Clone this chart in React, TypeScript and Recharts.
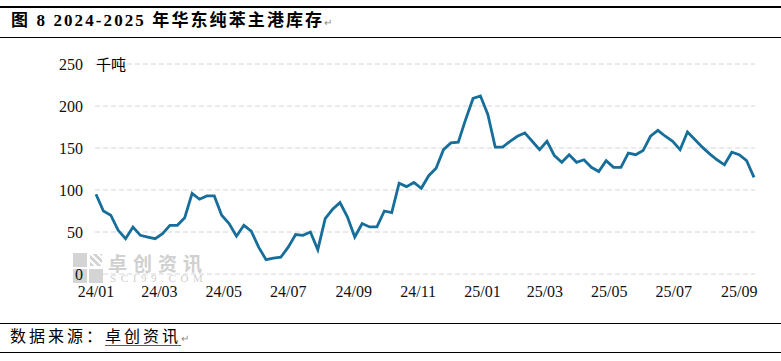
import { LineChart, Line, XAxis, YAxis, CartesianGrid } from "recharts";

// 华东纯苯主港库存，周度，单位：千吨
const INVENTORY = [
  95, 75, 70, 52, 42, 56, 46, 44, 42, 48,
  58, 58, 67, 96, 89, 93, 93, 70, 60, 45,
  58, 51, 32, 17, 19, 20, 32, 47, 46, 50,
  29, 66, 77, 85, 68, 44, 60, 56, 56, 75,
  73, 108, 104, 109, 102, 117, 126, 148, 156, 157,
  184, 209, 212, 190, 151, 151, 158, 164, 168, 158,
  148, 158, 141, 133, 142, 133, 136, 127, 122, 135,
  127, 127, 144, 142, 147, 164, 171, 164, 158, 148,
  169, 160, 151, 143, 136, 130, 145, 142, 135, 115,
];

const MONTH_LABELS = [
  "24/01", "24/03", "24/05", "24/07", "24/09", "24/11",
  "25/01", "25/03", "25/05", "25/07", "25/09",
];

const Y_TICKS = [0, 50, 100, 150, 200, 250];

const START = Date.UTC(2024, 0, 1);
const DAY_MS = 86400000;

// day offset of the first day of each labelled month
const monthDay = (label: string) => {
  const [yy, mm] = label.split("/");
  return Math.round((Date.UTC(2000 + Number(yy), Number(mm) - 1, 1) - START) / DAY_MS);
};
const X_TICKS = MONTH_LABELS.map(monthDay);
const tickLabel: Record<number, string> = {};
MONTH_LABELS.forEach((l, i) => (tickLabel[X_TICKS[i]] = l));

const data = INVENTORY.map((value, i) => ({ day: i * 7, value }));
const lastDay = (INVENTORY.length - 1) * 7;

const AXIS_FONT = "'Liberation Serif', 'Times New Roman', serif";
const CJK_FONT = "'Liberation Serif', 'Noto Sans CJK SC', serif";

const rule = (top: number) => (
  <div
    style={{
      position: "absolute",
      left: 0,
      top,
      width: 781,
      height: 1.5,
      background: "#000",
    }}
  />
);

export default function App() {
  return (
    <div
      style={{
        position: "absolute",
        left: 0,
        top: 0,
        width: 781,
        height: 361,
        overflow: "hidden",
        background: "#fff",
      }}
    >
      {rule(6)}
      <div
        style={{
          position: "absolute",
          left: 11,
          top: 10,
          fontFamily: CJK_FONT,
          fontWeight: 700,
          fontSize: 17,
          letterSpacing: 2.1,
          lineHeight: "22px",
          color: "#000",
          whiteSpace: "nowrap",
        }}
      >
        图 8 2024-2025 年华东纯苯主港库存
        <span style={{ fontSize: 10, color: "#888", fontWeight: 400 }}>↵</span>
      </div>
      {rule(36.5)}

      {/* watermark */}
      <div style={{ position: "absolute", left: 73, top: 252, width: 210, height: 32 }}>
        <div style={{ position: "absolute", left: 0, top: 1, width: 14, height: 14, background: "#d4d4d4" }} />
        <div style={{ position: "absolute", left: 0, top: 17, width: 14, height: 14, background: "#d4d4d4" }} />
        <div style={{ position: "absolute", left: 16, top: 17, width: 14, height: 14, background: "#d4d4d4" }} />
        <div style={{ position: "absolute", left: 17, top: 2, width: 12, height: 12, background: "repeating-linear-gradient(45deg,#d4d4d4 0 3px,#fff 3px 5px)" }} />
        <div
          style={{
            position: "absolute",
            left: 35,
            top: 1,
            fontFamily: "'Noto Sans CJK SC', sans-serif",
            fontWeight: 700,
            fontSize: 19,
            letterSpacing: 6,
            lineHeight: "19px",
            color: "#d0d0d0",
            whiteSpace: "nowrap",
          }}
        >
          卓创资讯
        </div>
        <div
          style={{
            position: "absolute",
            left: 37,
            top: 22,
            fontFamily: AXIS_FONT,
            fontSize: 11,
            letterSpacing: 4.6,
            lineHeight: "9px",
            color: "#d0d0d0",
            whiteSpace: "nowrap",
          }}
        >
          SCI99.COM
        </div>
      </div>

      <div style={{ position: "absolute", left: 0, top: 0 }}>
        <LineChart
          width={781}
          height={361}
          data={data}
          margin={{ top: 64, right: 26, bottom: 51, left: 35 }}
        >
          <CartesianGrid
            vertical={false}
            stroke="#d6d6d6"
            strokeDasharray="5 3"
          />
          <XAxis
            dataKey="day"
            type="number"
            domain={[0, lastDay]}
            ticks={X_TICKS}
            interval={0}
            padding={{ left: 1, right: 1 }}
            tickFormatter={(d: number) => tickLabel[d] ?? ""}
            axisLine={false}
            tickLine={false}
            tickSize={0}
            tickMargin={12}
            height={36}
            tick={{ fontFamily: AXIS_FONT, fontSize: 16, fill: "#111" }}
          />
          <YAxis
            domain={[0, 250]}
            ticks={Y_TICKS}
            interval={0}
            axisLine={false}
            tickLine={false}
            tickSize={0}
            tickMargin={12}
            width={60}
            tick={{ fontFamily: AXIS_FONT, fontSize: 16, fill: "#111" }}
          />
          <Line
            type="linear"
            dataKey="value"
            stroke="#176e9a"
            strokeWidth={2.8}
            dot={false}
            isAnimationActive={false}
          />
        </LineChart>
      </div>

      <div
        style={{
          position: "absolute",
          left: 96,
          top: 55,
          fontFamily: "'Noto Sans CJK SC', sans-serif",
          fontSize: 15,
          lineHeight: "18px",
          color: "#000",
        }}
      >
        千吨
      </div>

      {rule(322.5)}
      <div
        style={{
          position: "absolute",
          left: 10,
          top: 327,
          fontFamily: CJK_FONT,
          fontSize: 16,
          letterSpacing: 3,
          lineHeight: "20px",
          color: "#000",
          whiteSpace: "nowrap",
        }}
      >
        数据来源：
        <span style={{ textDecoration: "underline", textDecorationColor: "#1f5fd0", textUnderlineOffset: 3 }}>
          卓创资讯
        </span>
        <span style={{ fontSize: 10, color: "#888" }}>↵</span>
      </div>
      {rule(351.5)}
    </div>
  );
}
